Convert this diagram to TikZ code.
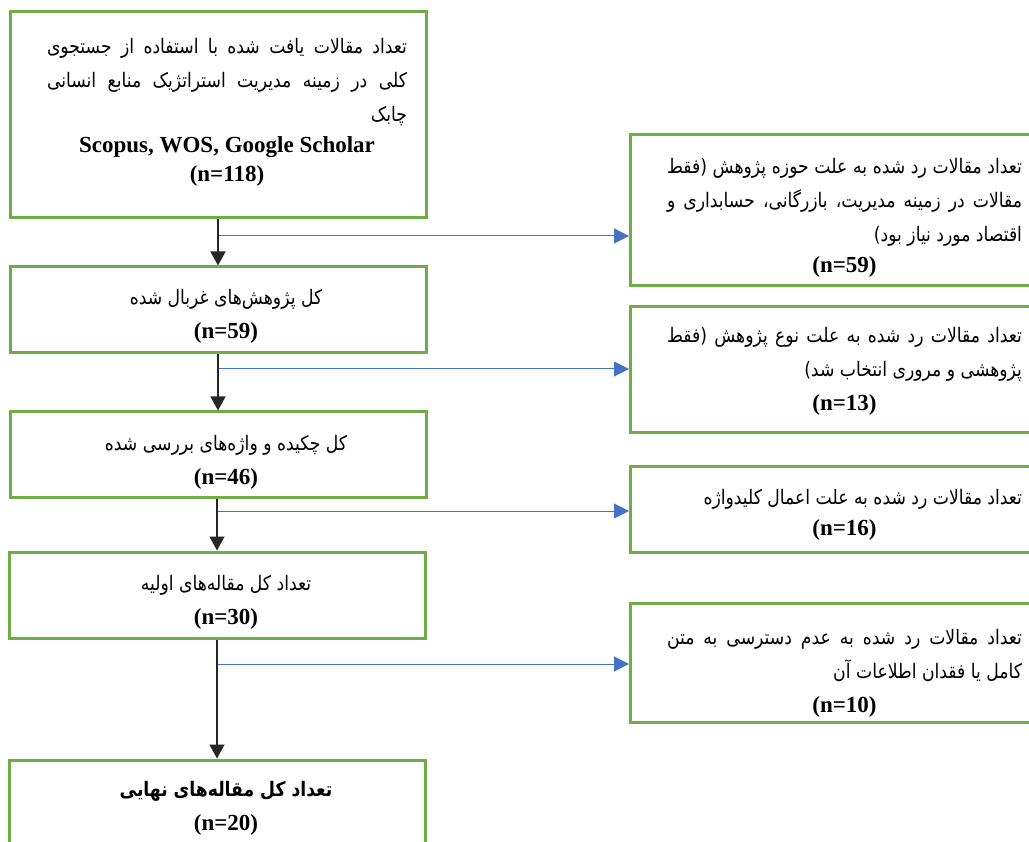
\documentclass[tikz,border=0pt]{standalone}
\usepackage{fontspec}
\setmainfont{Liberation Serif}
\newfontfamily\arabicfont[Script=Arabic,FakeStretch=0.86]{DejaVu Sans}
\TeXXeTstate=1
\usetikzlibrary{arrows.meta}
\definecolor{boxgreen}{HTML}{70AD47}
\definecolor{lineblue}{HTML}{4472C4}
\definecolor{linedark}{HTML}{262626}
% justified RTL line
\newcommand\faj[2]{\hbox to #1{\arabicfont\beginR #2\endR}}
% right-aligned RTL line
\newcommand\far[2]{\hbox to #1{\hfill\arabicfont\beginR #2\endR}}
% centred RTL line
\newcommand\fac[1]{{\arabicfont\beginR #1\endR}}
\newcommand\nn[1]{{\fontsize{23}{28}\selectfont\bfseries #1}}
\begin{document}
\begin{tikzpicture}[x=1pt,y=-1pt,
  box/.style={draw=boxgreen, line width=3pt, fill=white, inner sep=0pt},
  txt/.style={align=center, inner sep=0pt, font=\fontsize{20}{34}\selectfont},
  downarrow/.style={draw=linedark, line width=1.5pt, -{Triangle[width=15pt,length=14pt]}},
  sidearrow/.style={draw=lineblue, line width=1pt, -{Triangle[width=15pt,length=15pt]}}]
\useasboundingbox (0,0) rectangle (1029,842);
\clip (0,0) rectangle (1029,842);
% left column boxes
\node[box, minimum width=416pt, minimum height=206pt] (b1) at (218,115) {};
\node[box, minimum width=416pt, minimum height=86pt] (b2) at (218,310) {};
\node[box, minimum width=416pt, minimum height=85pt] (b3) at (218,454.5) {};
\node[box, minimum width=416pt, minimum height=86pt] (b4) at (217,595) {};
\node[box, minimum width=416pt, minimum height=110pt] (b5) at (217,815) {};
% right column boxes
\node[box, anchor=west, minimum width=420pt, minimum height=151pt] (r1) at (629,210.5) {};
\node[box, anchor=west, minimum width=420pt, minimum height=126pt] (r2) at (629,370) {};
\node[box, anchor=west, minimum width=420pt, minimum height=86pt] (r3) at (629,509) {};
\node[box, anchor=west, minimum width=420pt, minimum height=119pt] (r4) at (629,662.5) {};
% texts
\node[txt] (t1) at (227,112) {%
  \faj{360pt}{تعداد مقالات یافت شده با استفاده از جستجوی}\\
  \faj{360pt}{کلی در زمینه مدیریت استراتژیک منابع انسانی}\\
  \far{360pt}{چابک}\\[-3pt]
  \nn{Scopus, WOS, Google Scholar}\\[-5pt]
  \nn{(n=118)}};
\node[txt] (t2) at (226,316) {\fac{کل پژوهش‌های غربال شده}\\ \nn{(n=59)}};
\node[txt] (t3) at (226,462) {\fac{کل چکیده و واژه‌های بررسی شده}\\ \nn{(n=46)}};
\node[txt] (t4) at (226,602) {\fac{تعداد کل مقاله‌های اولیه}\\ \nn{(n=30)}};
\node[txt] (t5) at (226,808) {{\bfseries\fac{تعداد کل مقاله‌های نهایی}}\\ \nn{(n=20)}};
\node[txt] (tr1) at (844.5,218) {%
  \faj{355pt}{تعداد مقالات رد شده به علت حوزه پژوهش (فقط}\\
  \faj{355pt}{مقالات در زمینه مدیریت، بازرگانی، حسابداری و}\\
  \far{355pt}{اقتصاد مورد نیاز بود)}\\[-3pt]
  \nn{(n=59)}};
\node[txt] (tr2) at (844.5,371) {%
  \faj{355pt}{تعداد مقالات رد شده به علت نوع پژوهش (فقط}\\
  \far{355pt}{پژوهشی و مروری انتخاب شد)}\\
  \nn{(n=13)}};
\node[txt] (tr3) at (844.5,515) {%
  \far{355pt}{تعداد مقالات رد شده به علت اعمال کلیدواژه}\\[-3pt]
  \nn{(n=16)}};
\node[txt] (tr4) at (844.5,673) {%
  \faj{355pt}{تعداد مقالات رد شده به عدم دسترسی به متن}\\
  \far{355pt}{کامل یا فقدان اطلاعات آن}\\
  \nn{(n=10)}};
% branch points on the spine
\coordinate (c1) at (218,236);
\coordinate (c2) at (218,369);
\coordinate (c3) at (218,511);
\coordinate (c4) at (217,664);
% connectors
\draw[sidearrow] (c1) -- (c1 -| r1.west);
\draw[sidearrow] (c2) -- (c2 -| r2.west);
\draw[sidearrow] (c3) -- (c3 -| r3.west);
\draw[sidearrow] (c4) -- (c4 -| r4.west);
\draw[downarrow] (b1.south) -- (b2.north);
\draw[downarrow] (b2.south) -- (b3.north);
\draw[downarrow] (b3.south -| b4.north) -- (b4.north);
\draw[downarrow] (b4.south) -- (b5.north);
\end{tikzpicture}
\end{document}
